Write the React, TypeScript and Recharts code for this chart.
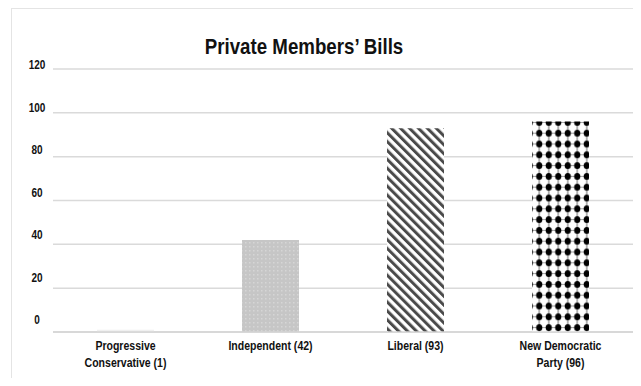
import { Bar, BarChart, CartesianGrid, Cell, XAxis, YAxis } from "recharts";

const categories = [
  "Progressive\nConservative (1)",
  "Independent (42)",
  "Liberal (93)",
  "New Democratic\nParty (96)",
];
const bills = [1, 42, 93, 96];
const yTicks = [0, 20, 40, 60, 80, 100, 120];
const edgeTicks = [0, 1, 2, 3, 4];

const FILLS = ["url(#pcFill)", "url(#indFill)", "url(#libFill)", "url(#ndpFill)"];
const FONT = "'Liberation Sans', Arial, sans-serif";

const data = categories.map((name, i) => ({ name, bills: bills[i], edge: i }));

const YTick = ({ y, payload }: any) => {
  // labels drift upward slightly relative to their gridlines, as in the source
  const shift = -4 - ((120 - payload.value) / 120) * 8;
  return (
    <g transform={`translate(25,${y + shift})`}>
      <text
        transform="scale(0.8,1)"
        dy="0.355em"
        textAnchor="middle"
        fontFamily={FONT}
        fontWeight="bold"
        fontSize={12.5}
        fill="#111"
      >
        {payload.value}
      </text>
    </g>
  );
};

const XTick = ({ x, y, payload }: any) => {
  const lines = String(payload.value).split("\n");
  return (
    <g transform={`translate(${x},${y + 5})`}>
      <text
        transform="scale(0.78,1)"
        textAnchor="middle"
        fontFamily={FONT}
        fontWeight="bold"
        fontSize={13.5}
        fill="#111"
      >
        {lines.map((l, i) => (
          <tspan key={i} x={0} dy={i === 0 ? "0.355em" : 17.5}>
            {l}
          </tspan>
        ))}
      </text>
    </g>
  );
};

const App = () => {
  return (
    <div
      style={{
        position: "relative",
        marginLeft: 3,
        width: 629,
        height: 369,
        borderLeft: "1px solid #e4e4e4",
        borderTop: "1px solid #e4e4e4",
        background: "#fff",
      }}
    >
      <div
        style={{
          position: "absolute",
          left: 142,
          top: 26,
          width: 300,
          textAlign: "center",
          fontFamily: FONT,
          fontWeight: "bold",
          fontSize: 22,
          lineHeight: "24px",
          color: "#111",
          transform: "scaleX(0.85)",
        }}
      >
        Private Members’ Bills
      </div>
      <BarChart
        width={629}
        height={369}
        data={data}
        margin={{ top: 60, right: 8, left: 0, bottom: 6 }}
        barCategoryGap={0}
      >
        <defs>
          <pattern id="pcFill" width="4" height="4" patternUnits="userSpaceOnUse">
            <rect width="4" height="4" fill="#f0f0f0" />
          </pattern>
          <pattern id="indFill" width="4" height="4" patternUnits="userSpaceOnUse">
            <rect width="4" height="4" fill="#c6c6c6" />
            <rect x="1" y="1" width="1.5" height="1.5" fill="#d6d6d6" />
          </pattern>
          <pattern
            id="libFill"
            width="6.3"
            height="6.3"
            patternUnits="userSpaceOnUse"
            patternTransform="rotate(-45)"
          >
            <rect width="6.3" height="6.3" fill="#fff" />
            <rect width="3" height="6.3" fill="#4a4a4a" />
          </pattern>
          <pattern id="ndpFill" width="9.5" height="10.8" patternUnits="userSpaceOnUse">
            <rect width="9.5" height="10.8" fill="#fff" />
            <line x1="4.75" y1="0" x2="4.75" y2="10.8" stroke="#666" strokeWidth="1" />
            <line x1="0" y1="5.4" x2="9.5" y2="5.4" stroke="#888" strokeWidth="0.8" />
            <ellipse cx="4.75" cy="5.4" rx="3.1" ry="3.5" fill="#000" />
          </pattern>
        </defs>
        <CartesianGrid vertical={false} stroke="#dadada" strokeWidth={1.5} />
        <XAxis
          xAxisId="edge"
          type="number"
          dataKey="edge"
          domain={[0, 4]}
          ticks={edgeTicks}
          height={1}
          axisLine={false}
          tick={false}
          tickLine={{ stroke: "#cfcfcf" }}
          tickSize={4}
        />
        <XAxis
          xAxisId="cat"
          dataKey="name"
          height={39}
          interval={0}
          axisLine={{ stroke: "#d4d4d4", strokeWidth: 1.5 }}
          tickLine={false}
          tick={<XTick />}
        />
        <YAxis
          width={41}
          domain={[0, 120]}
          ticks={yTicks}
          axisLine={false}
          tickLine={false}
          tick={<YTick />}
        />
        <Bar dataKey="bills" xAxisId="cat" barSize={57} isAnimationActive={false}>
          {data.map((entry, index) => (
            <Cell key={`cell-${index}`} fill={FILLS[index % FILLS.length]} />
          ))}
        </Bar>
      </BarChart>
    </div>
  );
};

export default App;
